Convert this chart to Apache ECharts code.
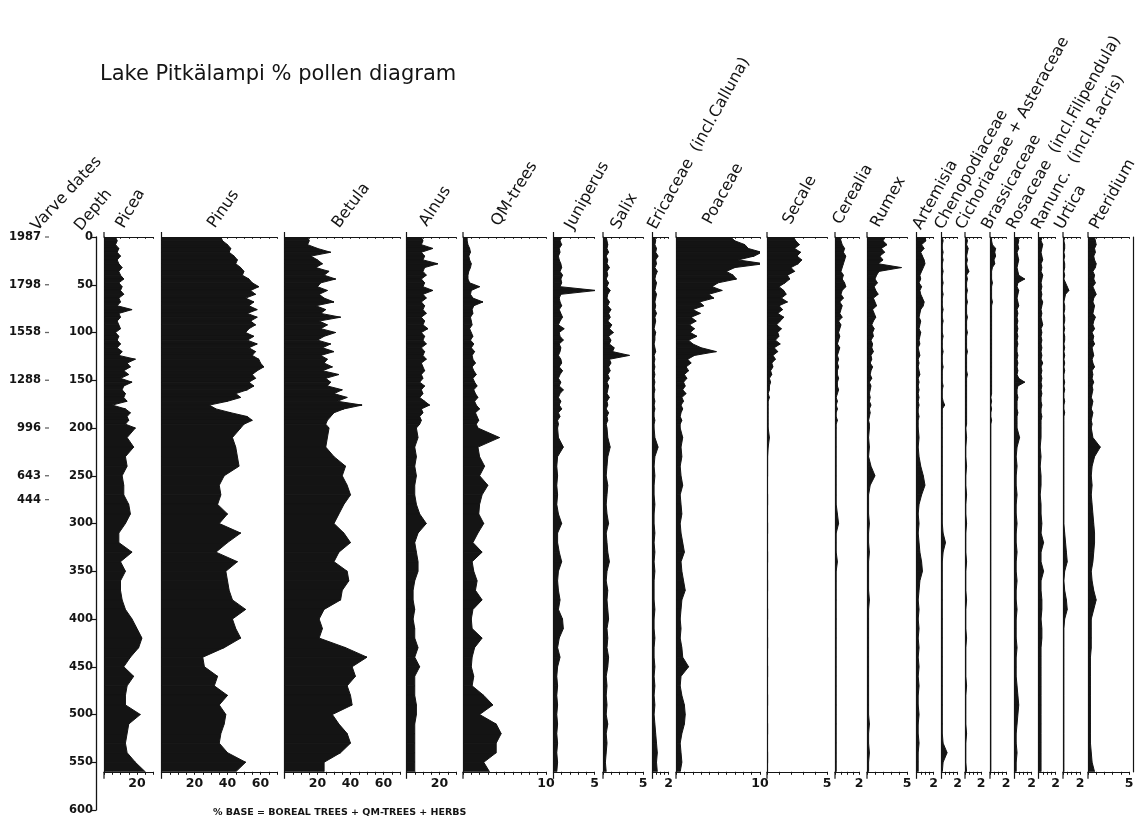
<!DOCTYPE html>
<html><head><meta charset="utf-8">
<script src="https://cdn.jsdelivr.net/npm/echarts@6/dist/echarts.min.js"></script>
<style>html,body{margin:0;padding:0;background:#fff}#c{width:1141px;height:823px}</style>
</head><body><div id="c"></div>
<script>
// ---------- DATA ----------
const title = 'Lake Pitkälampi % pollen diagram';
const caption = '% BASE = BOREAL TREES + QM-TREES + HERBS';
const taxa = ['Picea','Pinus','Betula','Alnus','QM-trees','Juniperus','Salix','Ericaceae  (incl.Calluna)','Poaceae','Secale','Cerealia','Rumex','Artemisia','Chenopodiaceae','Cichoriaceae + Asteraceae','Brassicaceae','Rosaceae  (incl.Filipendula)','Ranunc.  (incl.R.acris)','Urtica','Pteridium'];
const axisMax = [30,70,70,30,10,5,5,2,10,5,2,5,2,2,2,2,2,2,2,5];
const treeTickLabels = [20,40,60];
const herbEndLabels = [null,null,null,null,10,5,5,2,10,5,2,5,2,2,2,2,2,2,2,5];
const depthTicks = [0,50,100,150,200,250,300,350,400,450,500,550,600];
const varveDates = ['1987','1798','1558','1288','996','643','444'];
const varveDepths = [0,50,100,150,200,250,275];

const depths = [0,4,8,12,16,20,24,28,32,36,40,44,48,52,56,60,64,68,72,76,80,84,88,92,96,100,104,108,112,116,120,124,128,132,136,140,144,148,152,156,160,164,168,172,176,180,184,188,192,196,
 200,210,220,230,240,250,260,270,280,290,300,310,320,330,340,350,360,370,380,390,400,410,420,430,440,450,460,470,480,490,500,510,520,530,540,550,560];

const picea = [7,8,7,9,8,10,8,9,11,9, 10,12,9,11,10,12,9,10,8,17, 9,10,8,9,10,7,9,8,10,8, 11,9,19,14,16,12,15,10,17,12, 11,13,12,14,5,13,16,14,15,13,
 19,14,18,13,14,11,12,12,15,16, 13,9,9,17,10,13,10,10,11,13, 17,20,23,21,16,12,18,14,13,13, 22,15,14,13,14,19,25];
const pinus = [36,37,40,42,41,44,46,45,48,50, 49,53,55,59,54,57,51,56,53,58, 52,58,54,57,53,51,56,52,58,53, 57,55,59,60,62,58,55,57,53,56, 52,45,48,40,29,33,42,52,55,50,
 48,43,45,46,47,38,35,36,34,40, 35,48,40,33,46,39,40,41,43,51, 43,45,48,38,25,26,34,32,40,35, 39,38,36,35,40,51,45];
const betula = [14,15,14,20,28,16,20,23,19,27, 24,31,22,20,26,21,24,30,19,25, 22,34,21,26,22,31,24,20,28,23, 30,22,26,24,29,23,33,25,28,26, 35,30,38,32,47,36,30,28,26,25,
 27,26,25,30,37,35,38,40,36,33, 30,36,40,33,30,38,39,35,34,24, 21,23,21,37,50,41,43,38,40,41, 29,33,38,40,34,24,24];
const alnus = [9,10,9,16,9,11,10,19,11,10, 12,9,11,10,16,10,12,9,11,10, 12,9,11,10,13,9,11,10,12,9, 11,10,12,9,10,11,9,10,8,11, 9,10,8,11,14,9,10,8,9,8,
 6,7,5,6,5,6,5,5,6,8, 12,7,5,6,7,7,5,4,4,5, 4,5,5,7,5,8,5,5,5,6, 6,5,5,5,5,5,5];
const qmTrees = [0.5,0.5,0.6,0.8,0.9,0.7,0.8,1.0,0.9,0.7, 0.6,0.6,0.8,2.0,1.0,0.9,1.2,2.4,1.3,1.1, 1.2,0.9,1.0,1.1,0.8,1.0,1.2,0.9,1.3,1.0, 1.4,1.1,1.2,1.5,1.1,1.3,1.6,1.2,1.4,1.7, 1.3,1.5,1.8,1.4,1.6,2.0,1.5,1.7,1.9,1.6,
 1.8,4.4,1.8,2.0,2.6,2.0,3.0,2.3,2.0,1.9, 2.5,1.8,1.2,2.3,1.1,1.3,1.7,1.5,2.3,1.2, 1.0,1.1,2.3,1.4,1.1,1.0,1.3,1.1,2.5,3.6, 2.0,4.0,4.6,4.0,4.0,2.5,3.2];
const juniperus = [0.9,0.8,1.0,0.7,0.8,0.6,0.7,0.9,1.0,0.8, 1.1,0.9,1.0,0.8,5.2,0.9,0.7,0.8,1.0,0.7, 0.9,1.1,0.8,0.6,1.3,0.7,0.8,1.2,0.7,0.9, 0.8,0.6,0.9,1.0,0.7,1.1,0.8,0.6,0.9,0.7, 1.2,0.8,0.6,0.9,0.7,1.0,0.6,0.8,0.5,0.6,
 0.5,0.6,1.2,0.5,0.4,0.5,0.4,0.5,0.4,0.6, 1.0,0.5,0.5,0.7,1.0,0.6,0.5,0.6,0.8,0.6, 1.1,1.2,0.7,0.5,0.8,0.5,0.4,0.5,0.4,0.5, 0.4,0.5,0.4,0.5,0.4,0.5,0.4];
const salix = [0.4,0.5,0.6,0.5,0.7,0.4,0.6,0.5,0.8,0.5, 0.6,0.4,0.7,0.5,0.9,0.6,0.5,0.8,0.6,1.0, 0.7,0.9,0.6,1.1,0.8,1.3,0.7,1.0,0.8,1.4, 1.2,3.3,0.8,1.0,0.7,0.9,0.6,0.8,0.5,0.7, 0.6,0.5,0.8,0.5,0.6,0.4,0.7,0.5,0.6,0.4,
 0.5,0.6,0.9,0.6,0.5,0.4,0.6,0.5,0.4,0.5, 0.7,0.4,0.5,0.6,0.8,0.5,0.4,0.6,0.5,0.6, 0.7,0.5,0.6,0.5,0.7,0.6,0.4,0.5,0.4,0.5, 0.4,0.6,0.4,0.5,0.4,0.3,0.4];
const ericaceae = [0.3,0.4,0.3,0.5,0.4,0.7,0.4,0.5,0.3,0.6, 0.4,0.3,0.5,0.4,0.3,0.5,0.4,0.3,0.4,0.3, 0.5,0.3,0.4,0.3,0.2,0.4,0.3,0.3,0.2,0.3, 0.4,0.2,0.3,0.2,0.3,0.2,0.3,0.2,0.3,0.2, 0.3,0.2,0.2,0.3,0.2,0.3,0.2,0.2,0.3,0.2,
 0.2,0.3,0.7,0.3,0.2,0.3,0.2,0.2,0.3,0.2, 0.2,0.3,0.2,0.3,0.2,0.3,0.2,0.2,0.2,0.3, 0.2,0.2,0.3,0.2,0.2,0.3,0.2,0.3,0.2,0.3, 0.2,0.3,0.4,0.5,0.6,0.5,0.6];
const poaceae = [6.5,7.0,8.2,8.6,10.2,9.3,7.4,10.5,7.0,6.0, 6.8,7.2,5.0,4.3,5.5,3.9,4.5,2.8,3.3,2.0, 2.9,1.8,2.4,1.6,2.2,1.7,2.5,1.5,2.0,3.0, 4.8,2.2,1.4,1.8,1.2,1.5,1.0,1.3,0.9,1.1, 0.8,1.2,0.7,0.9,0.6,0.8,0.6,0.5,0.7,0.5,
 0.5,0.8,0.6,0.7,0.5,0.6,0.8,0.5,0.6,0.7, 0.5,0.6,0.8,1.0,0.6,0.7,0.9,1.1,0.7,0.6, 0.5,0.6,0.5,0.7,0.8,1.5,0.6,0.5,0.7,1.0, 1.1,1.0,0.7,0.5,0.6,0.7,0.5];
const secale = [2.2,2.4,2.7,2.3,2.8,2.5,2.9,2.6,2.0,2.3, 1.7,1.9,1.5,1.0,1.4,1.6,1.2,1.7,1.0,1.3, 0.9,1.4,1.1,0.8,1.2,0.9,1.0,0.7,1.1,0.6, 0.9,0.5,0.7,0.4,0.5,0.3,0.4,0.2,0.3,0.2, 0.2,0.1,0.2,0.1,0.1,0.1,0.1,0.1,0.1,0.1,
 0.1,0.2,0.1,0.05,0.05,0.05,0,0.05,0.05,0, 0.05,0.05,0,0.05,0.05,0,0.05,0.05,0,0.05, 0.05,0,0.05,0.05,0,0.05,0.05,0,0.05,0.05, 0,0.05,0.05,0,0.05,0.05,0];
const cerealia = [0.4,0.5,0.6,0.8,0.7,0.9,0.8,0.7,0.6,0.5, 0.7,0.6,0.8,0.9,0.6,0.5,0.7,0.4,0.6,0.5, 0.4,0.6,0.3,0.5,0.4,0.3,0.4,0.3,0.2,0.4, 0.3,0.2,0.3,0.2,0.3,0.2,0.2,0.3,0.2,0.2, 0.3,0.2,0.1,0.2,0.1,0.2,0.1,0.1,0.2,0.1,
 0.1,0.1,0.1,0.1,0.1,0.1,0.1,0.1,0.1,0.2, 0.3,0.1,0.1,0.1,0.2,0.1,0.1,0.1,0.1,0.1, 0.1,0.1,0.1,0.1,0.1,0.1,0.1,0.1,0.1,0.1, 0.1,0.1,0.1,0.1,0.1,0.1,0.1];
const rumex = [2.3,2.0,2.5,1.8,2.2,1.6,2.0,1.4,4.3,1.5, 1.2,1.0,1.3,0.9,1.1,1.4,0.8,1.0,1.2,0.7, 0.9,1.1,0.8,0.6,0.9,0.7,0.8,0.5,0.7,0.6, 0.8,0.5,0.6,0.4,0.7,0.5,0.4,0.6,0.3,0.5, 0.4,0.3,0.4,0.3,0.5,0.3,0.4,0.3,0.2,0.3,
 0.3,0.2,0.3,0.2,0.5,1.0,0.4,0.2,0.2,0.2, 0.3,0.2,0.2,0.3,0.2,0.2,0.2,0.2,0.3,0.2, 0.2,0.2,0.2,0.2,0.2,0.2,0.2,0.2,0.2,0.2, 0.2,0.3,0.2,0.2,0.3,0.2,0.2];
const artemisia = [1.0,1.1,0.6,0.9,0.5,0.7,0.9,1.0,0.8,0.6, 0.4,0.5,0.3,0.6,0.4,0.5,0.7,0.9,0.8,0.5, 0.4,0.3,0.5,0.4,0.3,0.5,0.4,0.3,0.4,0.2, 0.3,0.4,0.2,0.3,0.2,0.3,0.4,0.2,0.3,0.2, 0.3,0.2,0.3,0.2,0.3,0.2,0.2,0.3,0.2,0.2,
 0.2,0.3,0.2,0.3,0.5,0.8,1.0,0.6,0.3,0.2, 0.3,0.2,0.3,0.4,0.6,0.7,0.4,0.3,0.2,0.3, 0.2,0.3,0.2,0.3,0.2,0.3,0.2,0.3,0.2,0.2, 0.3,0.2,0.2,0.3,0.2,0.2,0.2];
const chenopodiaceae = [0.1,0.2,0.1,0.1,0.2,0.1,0.2,0.1,0.1,0.2, 0.1,0.1,0.2,0.1,0.1,0.2,0.1,0.1,0.1,0.2, 0.1,0.1,0.2,0.1,0.1,0.1,0.2,0.1,0.1,0.1, 0.2,0.1,0.1,0.1,0.2,0.1,0.1,0.1,0.1,0.2, 0.1,0.1,0.1,0.2,0.4,0.1,0.1,0.1,0.1,0.1,
 0.1,0.1,0.1,0.1,0.1,0.1,0.1,0.1,0.1,0.1, 0.1,0.2,0.5,0.2,0.1,0.1,0.1,0.1,0.1,0.1, 0.1,0.1,0.1,0.1,0.1,0.1,0.1,0.1,0.1,0.1, 0.1,0.1,0.1,0.2,0.7,0.2,0.1];
const cichoriaceae = [0.2,0.3,0.2,0.4,0.3,0.2,0.3,0.2,0.3,0.5, 0.2,0.3,0.2,0.2,0.3,0.2,0.2,0.3,0.2,0.2, 0.2,0.3,0.2,0.2,0.2,0.3,0.2,0.2,0.2,0.2, 0.3,0.2,0.2,0.2,0.2,0.2,0.3,0.2,0.2,0.2, 0.2,0.2,0.2,0.2,0.2,0.2,0.2,0.2,0.2,0.2,
 0.1,0.2,0.1,0.1,0.2,0.1,0.1,0.2,0.1,0.1, 0.2,0.1,0.1,0.1,0.2,0.1,0.1,0.1,0.2,0.1, 0.1,0.1,0.2,0.1,0.1,0.1,0.1,0.2,0.1,0.1, 0.1,0.1,0.2,0.1,0.1,0.1,0.2];
const brassicaceae = [0.2,0.2,0.3,0.7,0.6,0.7,0.5,0.6,0.3,0.2, 0.2,0.2,0.3,0.2,0.2,0.2,0.2,0.3,0.2,0.2, 0.2,0.2,0.2,0.2,0.2,0.2,0.2,0.2,0.2,0.2, 0.2,0.2,0.2,0.2,0.2,0.2,0.2,0.2,0.2,0.2, 0.2,0.2,0.1,0.2,0.1,0.2,0.1,0.1,0.2,0.1,
 0.1,0.1,0.1,0.1,0.1,0.1,0.1,0.1,0.1,0.1, 0.1,0.1,0.1,0.1,0.1,0.1,0.1,0.1,0.1,0.1, 0.1,0.1,0.1,0.1,0.1,0.1,0.1,0.1,0.1,0.1, 0.1,0.1,0.1,0.1,0.1,0.1,0.1];
const rosaceae = [0.4,0.5,0.4,0.5,0.3,0.4,0.5,0.4,0.3,0.4, 0.5,1.2,0.4,0.3,0.5,0.4,0.3,0.4,0.5,0.3, 0.4,0.3,0.4,0.3,0.4,0.3,0.4,0.3,0.4,0.3, 0.3,0.4,0.3,0.4,0.3,0.4,0.3,0.5,1.2,0.4, 0.3,0.3,0.4,0.3,0.3,0.3,0.4,0.3,0.3,0.3,
 0.3,0.6,0.3,0.2,0.3,0.2,0.2,0.3,0.2,0.2, 0.3,0.2,0.2,0.3,0.2,0.2,0.3,0.2,0.2,0.3, 0.2,0.2,0.2,0.3,0.2,0.2,0.2,0.3,0.4,0.5, 0.4,0.3,0.2,0.2,0.3,0.2,0.2];
const ranunculus = [0.4,0.3,0.5,0.4,0.3,0.4,0.5,0.3,0.4,0.3, 0.5,0.4,0.3,0.4,0.3,0.4,0.3,0.5,0.4,0.3, 0.4,0.3,0.4,0.5,0.3,0.4,0.3,0.4,0.3,0.4, 0.3,0.4,0.3,0.5,0.3,0.4,0.3,0.4,0.3,0.4, 0.3,0.4,0.3,0.3,0.4,0.3,0.3,0.4,0.3,0.3,
 0.3,0.3,0.2,0.3,0.2,0.3,0.3,0.2,0.3,0.3, 0.4,0.3,0.6,0.3,0.3,0.6,0.3,0.3,0.4,0.4, 0.3,0.4,0.4,0.3,0.3,0.3,0.3,0.3,0.3,0.3, 0.3,0.3,0.3,0.3,0.3,0.3,0.3];
const urtica = [0.2,0.1,0.2,0.2,0.1,0.2,0.1,0.2,0.2,0.1, 0.2,0.1,0.3,0.5,0.7,0.3,0.2,0.1,0.2,0.2, 0.1,0.2,0.2,0.1,0.2,0.1,0.2,0.2,0.1,0.2, 0.1,0.2,0.1,0.2,0.1,0.2,0.1,0.1,0.2,0.1, 0.2,0.1,0.1,0.2,0.1,0.1,0.2,0.1,0.1,0.1,
 0.1,0.1,0.1,0.1,0.1,0.1,0.1,0.1,0.1,0.1, 0.1,0.2,0.3,0.4,0.5,0.2,0.1,0.2,0.4,0.5, 0.2,0.1,0.1,0.1,0.1,0.1,0.1,0.1,0.1,0.1, 0.1,0.1,0.1,0.1,0.1,0.1,0.1];
const pteridium = [0.8,0.9,1.0,0.8,0.9,0.7,0.8,1.0,0.9,0.6, 0.8,0.7,0.9,0.6,0.8,1.0,0.7,0.6,0.8,0.7, 0.6,0.9,0.7,0.6,0.8,0.5,0.7,0.6,0.8,0.5, 0.6,0.7,0.5,0.6,0.8,0.5,0.6,0.5,0.7,0.5, 0.6,0.5,0.4,0.6,0.5,0.4,0.6,0.5,0.4,0.5,
 0.4,0.6,1.5,0.8,0.5,0.4,0.5,0.4,0.5,0.6, 0.7,0.8,0.8,0.7,0.6,0.4,0.5,0.7,1.0,0.7, 0.4,0.4,0.4,0.4,0.3,0.3,0.3,0.3,0.3,0.3, 0.3,0.3,0.3,0.3,0.4,0.5,0.8];

const seriesValues = [picea,pinus,betula,alnus,qmTrees,juniperus,salix,ericaceae,poaceae,secale,cerealia,rumex,artemisia,chenopodiaceae,cichoriaceae,brassicaceae,rosaceae,ranunculus,urtica,pteridium];

// ---------- LAYOUT ----------
const TOP = 237, PX_PER_DEPTH = 0.955, PANEL_DEPTH = 560, DEPTH_MAX = 600;
const PANEL_H = PANEL_DEPTH * PX_PER_DEPTH;
const panelLeft  = [104,161.5,284.5,406.5,463,553.5,603,652.5,676,767,835,867,916.5,941.5,965,990,1014.5,1038.5,1063,1088];
const panelWidth = [49.5,115.5,115.5,49.5,83,41,40,16,84,60,24,40,17,16,16,16,17,17,17,41];
const headerX = [127,218,342,430,502,576,622,659,714,794,844,882,924,946,967,993,1018,1043,1066,1101];
const headerY = [231,231,231,229,229,232,232,232,227,227,227,230,232,232,232,232,232,232,232,232];
const headerAngle = [60,55,53,57,58,61,61,61,61,61,61,61,61,61,61,61,61,61,61,61];
const INK = '#141414';
const FONT = '"DejaVu Sans", sans-serif';
const rad = a => a * Math.PI / 180;

const grids = [], xAxes = [], yAxes = [], series = [], graphics = [];

// depth axis grid
grids.push({left: 96, top: TOP, width: 4, height: DEPTH_MAX * PX_PER_DEPTH});
xAxes.push({gridIndex: 0, type: 'value', min: 0, max: 1, show: false});
yAxes.push({gridIndex: 0, type: 'value', inverse: true, min: depthTicks[0], max: depthTicks[depthTicks.length-1], interval: 50,
  axisLine: {show: true, lineStyle: {color: INK, width: 1.3}},
  axisTick: {show: true, length: 4, lineStyle: {color: INK, width: 1.2}},
  axisLabel: {color: INK, fontFamily: FONT, fontWeight: 'bold', fontSize: 11.5, margin: 3},
  splitLine: {show: false}});

// varve date grid
grids.push({left: 0, top: TOP, width: 47, height: DEPTH_MAX * PX_PER_DEPTH});
xAxes.push({gridIndex: 1, type: 'value', min: 0, max: 1, show: false});
yAxes.push({gridIndex: 1, type: 'value', inverse: true, min: 0, max: DEPTH_MAX, show: false});
series.push({type: 'scatter', xAxisIndex: 1, yAxisIndex: 1, symbol: 'rect', symbolSize: [4, 1.3],
  itemStyle: {color: '#666', opacity: 1}, silent: true,
  data: varveDates.map((t, i) => ({value: [1, varveDepths[i]], name: t})),
  label: {show: true, position: 'left', distance: 4, formatter: p => p.name, color: INK, opacity: 1, fontFamily: FONT, fontWeight: 'bold', fontSize: 11.5}});

function renderArea(params, api) {
  const v0 = api.value(0), d0 = api.value(1), v1 = api.value(2), d1 = api.value(3);
  const pts = [api.coord([0, d0]), api.coord([v0, d0]), api.coord([v1, d1]), api.coord([0, d1])];
  return {type: 'polygon', shape: {points: pts}, style: {fill: INK, stroke: INK, lineWidth: 1, lineJoin: 'miter'}};
}

taxa.forEach((name, i) => {
  const g = grids.length;
  grids.push({left: panelLeft[i], top: TOP, width: panelWidth[i], height: PANEL_H});
  const isTree = i < 4;
  const interval = isTree ? 5 : (axisMax[i] <= 2 ? 0.5 : 1);
  const fmt = v => isTree ? (treeTickLabels.indexOf(v) >= 0 ? String(v) : '') : (v === herbEndLabels[i] ? String(v) : '');
  const xb = xAxes.length;
  xAxes.push({gridIndex: g, type: 'value', position: 'bottom', min: 0, max: axisMax[i], interval: interval,
    axisLine: {show: true, onZero: false, lineStyle: {color: INK, width: 1.2}},
    axisTick: {show: true, length: 3, lineStyle: {color: INK, width: 1}},
    axisLabel: {show: true, formatter: fmt, color: INK, fontFamily: FONT, fontWeight: 'bold', fontSize: 12.5, margin: 5, hideOverlap: false, showMinLabel: true, showMaxLabel: true},
    splitLine: {show: false}});
  xAxes.push({gridIndex: g, type: 'value', position: 'top', min: 0, max: axisMax[i], interval: interval,
    axisLine: {show: true, onZero: false, lineStyle: {color: INK, width: 1}},
    axisTick: {show: true, inside: true, length: 2, lineStyle: {color: INK, width: 0.8}},
    axisLabel: {show: false}, splitLine: {show: false}});
  const yi = yAxes.length;
  yAxes.push({gridIndex: g, type: 'value', inverse: true, min: 0, max: PANEL_DEPTH,
    axisLine: {show: true, onZero: false, lineStyle: {color: INK, width: 1.2}},
    axisTick: {show: false}, axisLabel: {show: false}, splitLine: {show: false}});
  if (i === taxa.length - 1) {
    yAxes.push({gridIndex: g, type: 'value', inverse: true, min: 0, max: PANEL_DEPTH, position: 'right', offset: 4,
      axisLine: {show: true, onZero: false, lineStyle: {color: INK, width: 1.2}},
      axisTick: {show: false}, axisLabel: {show: false}, splitLine: {show: false}});
  }
  const vals = seriesValues[i];
  const data = [];
  for (let k = 0; k < depths.length - 1; k++) data.push([vals[k], depths[k], vals[k+1], depths[k+1]]);
  series.push({type: 'custom', name: name, xAxisIndex: xb, yAxisIndex: yi, renderItem: renderArea, clip: true,
    encode: {x: [0, 2], y: [1, 3]}, data: data, silent: true});
  graphics.push({type: 'text', x: headerX[i], y: headerY[i], rotation: rad(headerAngle[i]),
    style: {text: name, font: '16px ' + FONT, fill: INK, textAlign: 'left', textVerticalAlign: 'bottom'}});
  // small stubs of the panel's left frame line above the top axis and below the bottom axis
  graphics.push({type: 'line', silent: true, shape: {x1: panelLeft[i], y1: TOP - 5, x2: panelLeft[i], y2: TOP}, style: {stroke: INK, lineWidth: 1.2}});
  graphics.push({type: 'line', silent: true, shape: {x1: panelLeft[i], y1: TOP + PANEL_H, x2: panelLeft[i], y2: TOP + PANEL_H + 7}, style: {stroke: INK, lineWidth: 1.2}});
});

graphics.push({type: 'text', x: 40, y: 234, rotation: rad(47),
  style: {text: 'Varve dates', font: '16px ' + FONT, fill: INK, textAlign: 'left', textVerticalAlign: 'bottom'}});
graphics.push({type: 'text', x: 84, y: 234, rotation: rad(50),
  style: {text: 'Depth', font: '16px ' + FONT, fill: INK, textAlign: 'left', textVerticalAlign: 'bottom'}});
graphics.push({type: 'text', x: 100, y: 75,
  style: {text: title, font: '21px ' + FONT, fill: INK, textAlign: 'left', textVerticalAlign: 'middle'}});
graphics.push({type: 'text', x: 213, y: 813,
  style: {text: caption, font: 'bold 9.5px ' + FONT, fill: INK, textAlign: 'left', textVerticalAlign: 'middle'}});

const chart = echarts.init(document.getElementById('c'), null, {renderer: 'canvas'});
chart.setOption({
  animation: false,
  backgroundColor: '#fff',
  grid: grids, xAxis: xAxes, yAxis: yAxes, series: series,
  graphic: {elements: graphics}
});
</script></body></html>
